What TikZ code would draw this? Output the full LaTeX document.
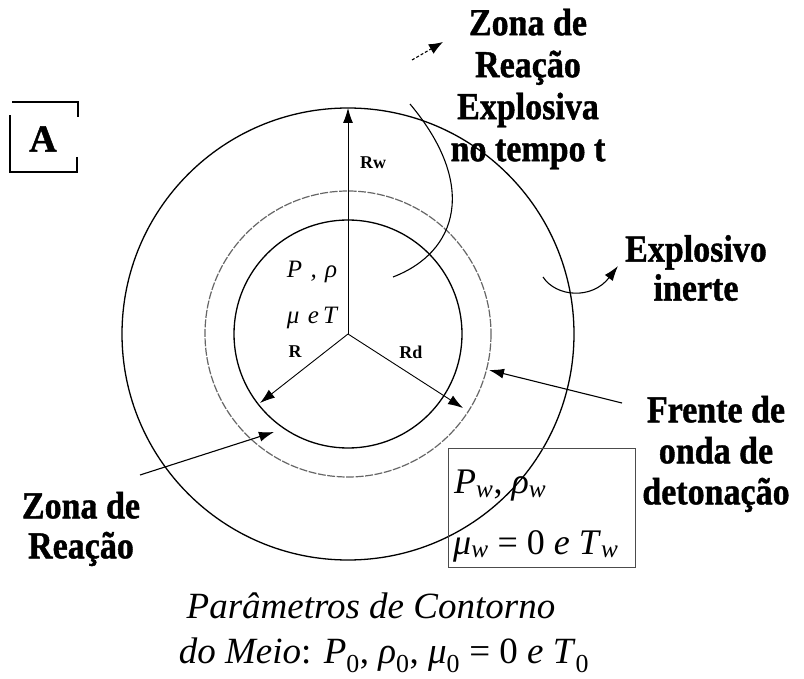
\documentclass[tikz,border=0pt]{standalone}
\usepackage{fontspec}
\setmainfont{Liberation Serif}
\newfontfamily\heavy{Liberation Serif Bold}[FakeBold=1.2]
\usetikzlibrary{arrows.meta}
\newcommand{\ssb}[1]{\textsubscript{#1}}
\newcommand{\tl}[1]{\scalebox{1}[1.12]{#1}}
\begin{document}
\begin{tikzpicture}[x=1pt,y=-1pt,
  circ/.style={line width=1.3pt},
  midcirc/.style={line width=1.2pt,black!60,dash pattern=on 8pt off 1.5pt},
  arr/.style={line width=1.1pt,-{Latex[length=15pt,width=10pt]}},
  lbl/.style={font=\fontsize{34}{42}\selectfont\heavy,align=center,inner sep=0pt},
  rad/.style={font=\fontsize{18}{20}\selectfont\bfseries,inner sep=0pt},
  var/.style={font=\fontsize{25}{28}\selectfont\itshape,inner sep=0pt},
  big/.style={font=\fontsize{36}{40}\selectfont,inner sep=0pt}
]
\useasboundingbox (0,0) rectangle (804,679);

% circles
\coordinate (c) at (348,334);
\draw[circ] (c) circle[radius=226];
\draw[midcirc] (c) circle[radius=143];
\draw[circ] (c) circle[radius=114];

% radii
\coordinate (rw) at (348,108);
\coordinate (r) at (260,403);
\coordinate (rd) at (463,408);
\draw[arr,line width=0.9pt] (c) -- (rw);
\draw[arr,line width=0.9pt] (c) -- (r);
\draw[arr,line width=0.9pt] (c) -- (rd);
\node[rad] (lrw) at (373,163) {Rw};
\node[rad] (lr) at (295,352) {R};
\node[rad] (lrd) at (411,352) {Rd};

\node[var] (prho) at (312,272) {P\,\,,\,\,ρ};
\node[var] (muet) at (312,318) {μ\,\,e\,T};

% A box
\node[font=\fontsize{38}{40}\selectfont\heavy,inner sep=0pt] (A) at (43,139) {A};
\draw[line width=1.3pt] (12,102) -- (78,102) -- (78,117);
\draw[line width=1.3pt] (77,157) -- (77,172) -- (10,172) -- (10,115);

% top right label
\node[lbl] (zre) at (528,89) {\tl{Zona de}\\\tl{Reação}\\\tl{Explosiva}\\\tl{no tempo t}};
\coordinate (da1) at (412,60);
\coordinate (da2) at (443,42);
\draw[line width=1.1pt,dash pattern=on 3pt off 2pt,-{Latex[length=14pt,width=11pt]}] (da1) -- (da2);
\coordinate (pc1) at (410,104);
\coordinate (pc2) at (393,277);
\draw[line width=1.1pt] (pc1) .. controls (478,185) and (458,252) .. (pc2);

% Explosivo inerte
\node[lbl,font=\fontsize{34}{39}\selectfont\heavy] (ei) at (696,268) {\tl{Explosivo}\\\tl{inerte}};
\coordinate (ei1) at (543,277);
\coordinate (ei2) at (618,266);
\draw[arr] (ei1) .. controls (556,297) and (592,300) .. (ei2);

% Frente de onda
\node[lbl,font=\fontsize{34}{41}\selectfont\heavy] (fo) at (716,454) {\tl{Frente de}\\\tl{onda de}\\\tl{detonação}};
\coordinate (fo1) at (622,403);
\coordinate (fo2) at (489,370);
\draw[arr] (fo1) -- (fo2);

% Zona de Reacao
\node[lbl,font=\fontsize{34}{40}\selectfont\heavy] (zr) at (81,529) {\tl{Zona de}\\\tl{Reação}};
\coordinate (zr1) at (140,475);
\coordinate (zr2) at (274,432);
\draw[arr] (zr1) -- (zr2);

% Pw box
\draw[line width=1pt,black!70] (448,448) rectangle (635,567);
\node[big,anchor=west] (pw) at (454,486) {\textit{P}\ssb{\textit{w}}, \textit{ρ}\ssb{\textit{w}}};
\node[big,anchor=west] (muw) at (453,546) {\textit{μ}\ssb{\textit{w}} = 0 \textit{e} \textit{T}\ssb{\textit{w}}};

% bottom text
\node[font=\fontsize{37}{40}\selectfont\itshape,inner sep=0pt] (pc) at (371,606) {Parâmetros de Contorno};
\node[big,font=\fontsize{37}{40}\selectfont] (dm) at (384,655) {\textit{do Meio}: \textit{P}\ssb{0}, \textit{ρ}\ssb{0}, \textit{μ}\ssb{0} = 0 \textit{e} \textit{T}\ssb{0}};
\end{tikzpicture}
\end{document}
